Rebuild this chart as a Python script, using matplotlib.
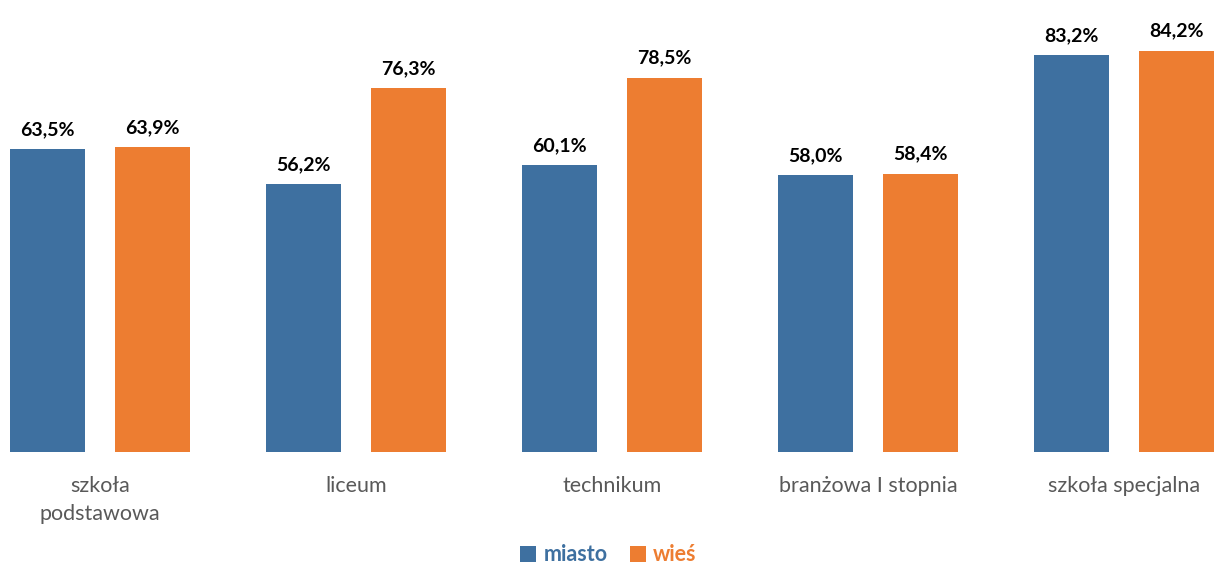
import matplotlib.pyplot as plt
import numpy as np

plt.rcParams['font.family'] = ['Lato', 'DejaVu Sans']

categories = ['szkoła\npodstawowa', 'liceum', 'technikum', 'branżowa I stopnia', 'szkoła specjalna']
miasto = [63.5, 56.2, 60.1, 58.0, 83.2]
wies = [63.9, 76.3, 78.5, 58.4, 84.2]

blue = '#3E70A0'
orange = '#ED7D31'

fig = plt.figure(figsize=(12.17, 5.65), dpi=100)
ax = fig.add_axes([0, 0.2, 1, 0.8])

x = np.arange(len(categories))
w = 0.293
off = 0.205
b1 = ax.bar(x - off, miasto, w, color=blue, label='miasto')
b2 = ax.bar(x + off, wies, w, color=orange, label='wieś')

for bars, vals in ((b1, miasto), (b2, wies)):
    for b, v in zip(bars, vals):
        ax.annotate('{:.1f}%'.format(v).replace('.', ','),
                    (b.get_x() + b.get_width() / 2, v),
                    xytext=(0, 8), textcoords='offset points',
                    ha='center', va='bottom', fontsize=14, fontweight='bold', color='black')

ax.set_xlim(-0.39, 4.363)
ax.set_ylim(0, 94.8)
ax.set_yticks([])
ax.set_xticks(x)
ax.set_xticklabels(categories, fontsize=15.5, color='#595959', linespacing=1.5)
ax.tick_params(axis='x', length=0, pad=17)
for s in ax.spines.values():
    s.set_visible(False)

leg = fig.legend(loc='lower center', bbox_to_anchor=(0.5, -0.035), ncol=2, frameon=False,
                 handlelength=0.75, handleheight=0.75, handletextpad=0.35, columnspacing=1.0,
                 prop={'size': 15.5, 'weight': 'bold'})
for t, c in zip(leg.get_texts(), (blue, orange)):
    t.set_color(c)

fig.savefig('out.png', dpi=100)
